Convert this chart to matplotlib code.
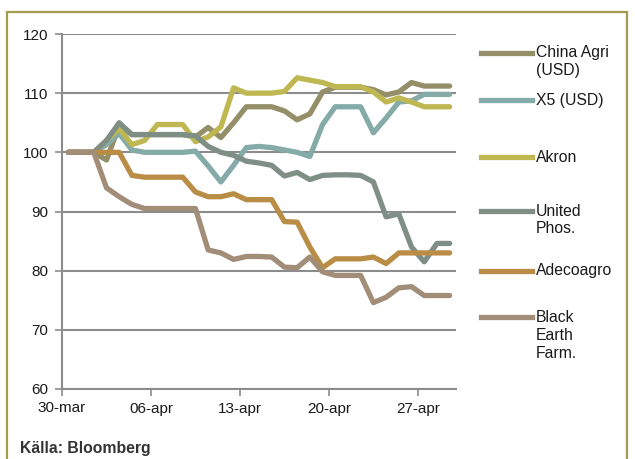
import matplotlib.pyplot as plt
from matplotlib.lines import Line2D
from matplotlib.patches import Rectangle
import numpy as np

plt.rcParams['font.family'] = ['Liberation Sans', 'DejaVu Sans']

# daily index, 30-mar .. 29-apr
days = np.arange(31)
tick_days = [0, 7, 14, 21, 28]
tick_labels = ['30-mar', '06-apr', '13-apr', '20-apr', '27-apr']

china_agri = [100, 100, 100, 98.7, 104.5, 103, 103, 103, 103, 103, 102.6, 104.2, 102.5, 105, 107.7,
              107.7, 107.7, 107, 105.5, 106.5, 110.2, 111, 111, 111, 110.6, 109.7, 110.2, 111.8, 111.2,
              111.2, 111.2]
x5 = [100, 100, 100, 101.3, 103.2, 100.4, 100, 100, 100, 100, 100.2, 97.7, 95, 97.8, 100.8,
      101, 100.8, 100.4, 100, 99.3, 104.7, 107.7, 107.7, 107.7, 103.3, 105.8, 108.5, 108.7, 109.8,
      109.8, 109.8]
akron = [100, 100, 100, 102, 104, 101.3, 102, 104.7, 104.7, 104.7, 101.8, 102.6, 104.3, 110.9, 110,
         110, 110, 110.3, 112.6, 112.2, 111.8, 111.1, 111.1, 111.1, 110.2, 108.5, 109.2, 108.5, 107.7,
         107.7, 107.7]
united_phos = [100, 100, 100, 102, 105, 103, 103, 103, 103, 103, 102.8, 101, 100, 99.5, 98.5,
               98.2, 97.8, 96, 96.6, 95.4, 96.1, 96.2, 96.2, 96.1, 95, 89.1, 89.6, 84, 81.5,
               84.6, 84.6]
adecoagro = [100, 100, 100, 100, 100, 96.1, 95.8, 95.8, 95.8, 95.8, 93.3, 92.5, 92.5, 93, 92,
             92, 92, 88.3, 88.2, 84, 80.5, 82, 82, 82, 82.3, 81.2, 83, 83, 83, 83, 83]
black_earth = [100, 100, 100, 94, 92.5, 91.2, 90.5, 90.5, 90.5, 90.5, 90.5, 83.5, 83, 81.9, 82.4,
               82.4, 82.3, 80.6, 80.5, 82.3, 79.8, 79.2, 79.2, 79.2, 74.6, 75.5, 77.1, 77.3, 75.8,
               75.8, 75.8]

series = [
    (['China Agri', '(USD)'], china_agri, '#948F69'),
    (['X5 (USD)'], x5, '#85ABA9'),
    (['Akron'], akron, '#BFB852'),
    (['United', 'Phos.'], united_phos, '#7F8F86'),
    (['Adecoagro'], adecoagro, '#B98D46'),
    (['Black', 'Earth', 'Farm.'], black_earth, '#A28D79'),
]

fig = plt.figure(figsize=(6.35, 4.59), dpi=100)
ax = fig.add_axes([62 / 635, 1 - 389 / 459, 394 / 635, 355 / 459])

for label, vals, col in series:
    ax.plot(days + 0.5, vals, color=col, lw=3.8, solid_capstyle='round', solid_joinstyle='round')

ax.set_xlim(0, 31)
ax.set_ylim(60, 120)
ax.set_yticks(range(60, 121, 10))
ax.set_xticks(tick_days)
ax.set_xticklabels(tick_labels)
ax.grid(axis='y', color='#8C8C8C', lw=1.5)
ax.set_axisbelow(True)
for s in ['top', 'right']:
    ax.spines[s].set_visible(False)
for s in ['left', 'bottom']:
    ax.spines[s].set_color('#8C8C8C')
    ax.spines[s].set_linewidth(1.5)
ax.tick_params(axis='both', colors='#8C8C8C', length=5, width=1.2, labelsize=11,
               labelcolor='#1a1a1a')
ax.tick_params(axis='y', pad=5)
ax.tick_params(axis='x', pad=4)

# legend drawn by hand so the swatch sits on the first text line
leg_y = [53, 100, 157, 211, 271, 317]
for (label, vals, col), y in zip(series, leg_y):
    fy = 1 - y / 459
    fig.add_artist(Line2D([481 / 635, 532 / 635], [fy, fy], color=col, lw=3.8,
                          transform=fig.transFigure))
    for i, line in enumerate(label):
        fig.text(536 / 635, 1 - (y + i * 18) / 459, line, fontsize=11.3, color='#1a1a1a',
                 va='center', ha='left')

fig.add_artist(Rectangle((7 / 635, -0.01), 620 / 635, 1 - 12 / 459 + 0.01, fill=False,
                         edgecolor='#A39C4F', lw=1.6, transform=fig.transFigure))
fig.text(20 / 635, 1 - 449 / 459, 'Källa: Bloomberg', fontsize=11.3, fontweight='bold',
         color='#333333', va='center')

fig.savefig('out.png', dpi=100)
